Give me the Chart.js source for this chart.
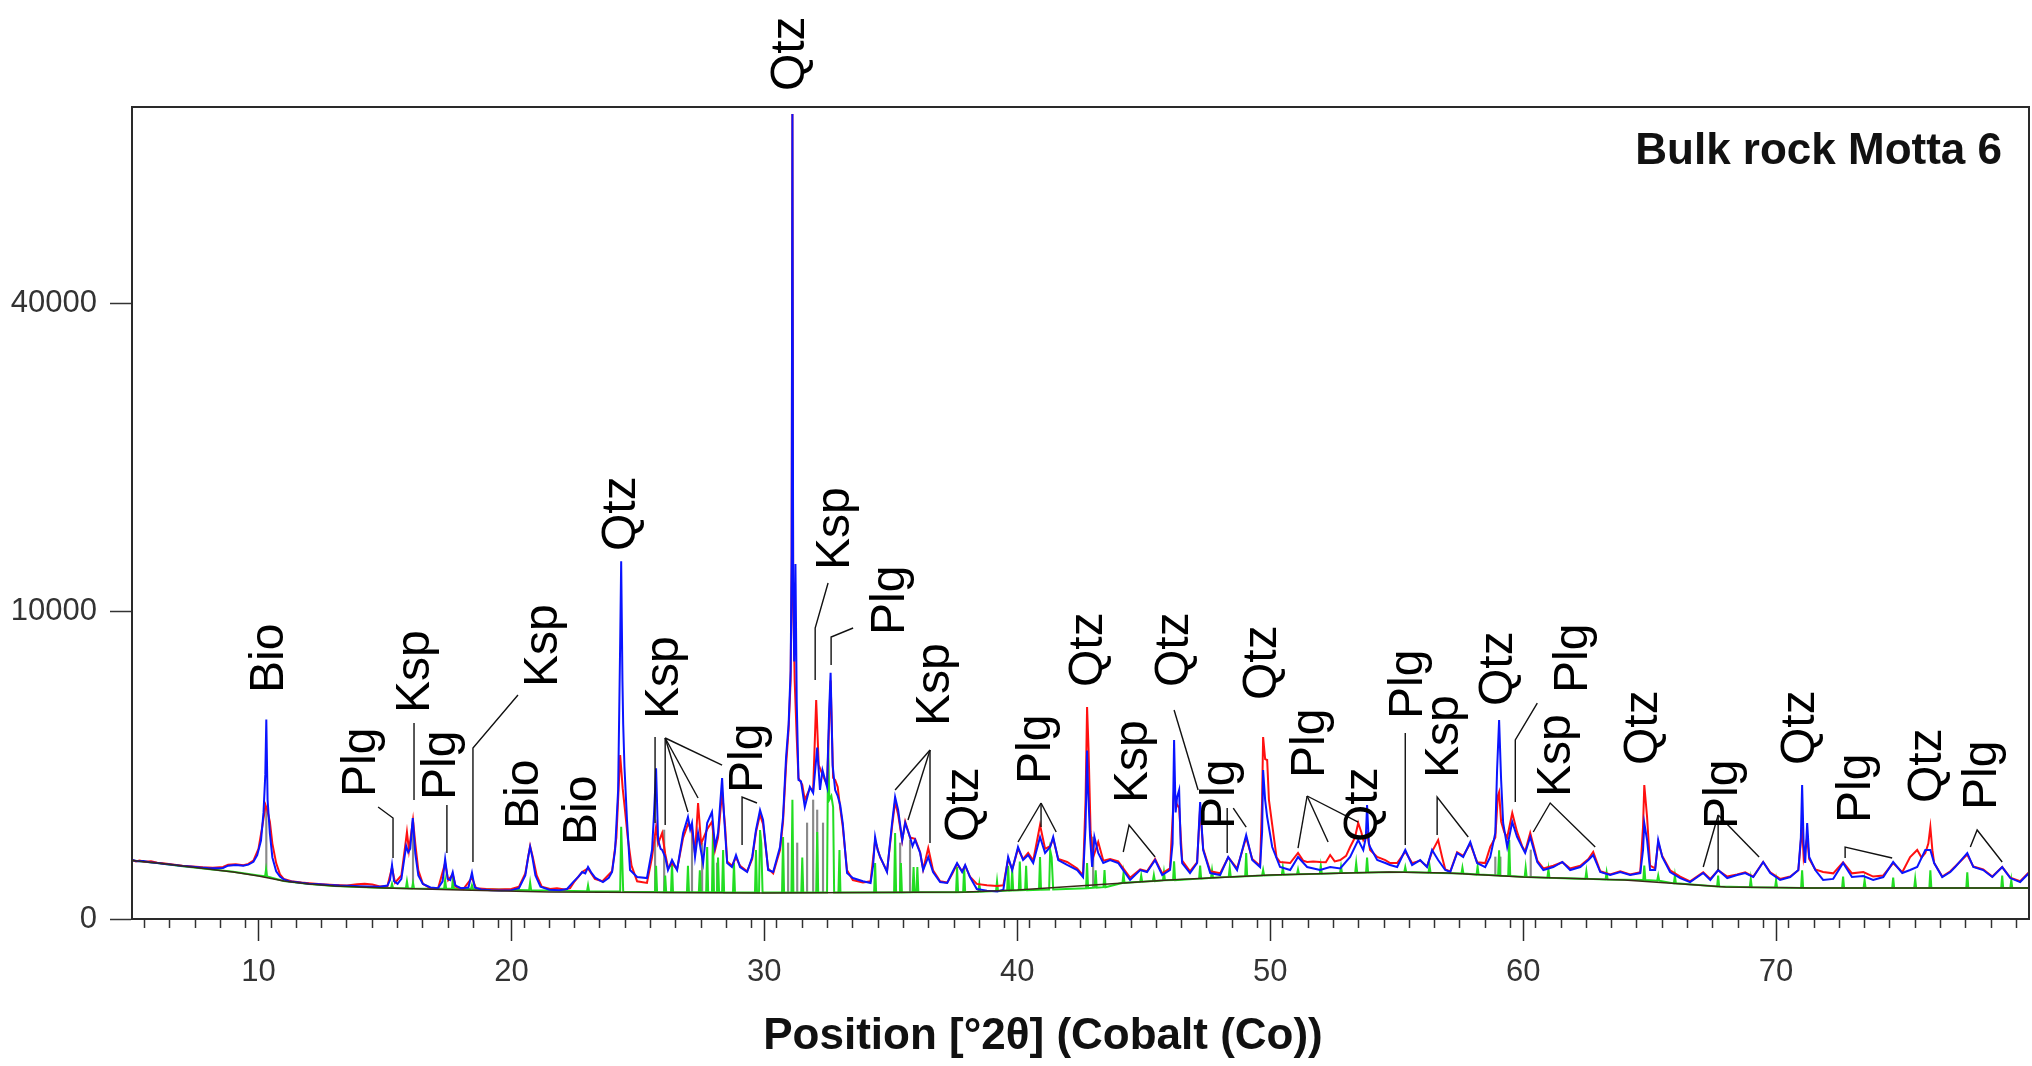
<!DOCTYPE html>
<html>
<head>
<meta charset="utf-8">
<script src="https://cdn.jsdelivr.net/npm/chart.js@4.4.1/dist/chart.umd.min.js"></script>
<style>
  html, body { margin: 0; padding: 0; background: #fff; }
  #wrap { width: 2032px; height: 1066px; position: relative; }
</style>
</head>
<body>
<div id="wrap"><canvas id="xrd"></canvas></div>
<script>
/* ---------------- data: [2theta, counts] ---------------- */
const xMin = 5, xMax = 80;
const yMax = 69600;
const yTicks = [0, 10000, 40000];
const xLabelTicks = [10, 20, 30, 40, 50, 60, 70];
const sampleName = 'Bulk rock Motta 6';
const xTitle = 'Position [°2θ] (Cobalt (Co))';

// blue trace
const blueTrace = [
  [5.0,367],[5.2,352],[5.45,355],[5.7,340],[6.0,330],[6.3,318],[6.6,310],[7.0,296],[7.3,290],[7.7,280],
  [8.0,275],[8.3,272],[8.6,275],[8.8,300],[9.1,308],[9.4,300],[9.6,312],[9.8,345],[9.95,430],[10.1,650],
  [10.2,1200],[10.27,2200],[10.31,4200],[10.36,1500],[10.45,780],[10.55,400],[10.7,240],[10.85,190],[11.0,165],
  [11.2,150],[11.6,140],[12.0,132],[12.4,128],[12.8,122],[13.2,118],[13.6,116],[14.0,114],[14.4,112],[14.8,110],
  [15.1,118],[15.2,160],[15.28,308],[15.36,150],[15.5,130],[15.65,170],[15.75,350],[15.84,560],[15.92,470],
  [16.0,520],[16.1,1075],[16.2,450],[16.32,200],[16.5,130],[16.8,105],[17.1,100],[17.28,150],[17.38,380],
  [17.48,170],[17.58,160],[17.68,230],[17.78,120],[18.0,100],[18.3,105],[18.44,225],[18.55,105],[18.8,92],
  [19.2,88],[19.6,86],[20.0,88],[20.3,100],[20.55,200],[20.67,420],[20.74,550],[20.82,420],[20.95,200],
  [21.15,110],[21.5,90],[21.9,88],[22.2,95],[22.44,144],[22.65,190],[22.8,233],[22.92,220],[23.03,285],
  [23.15,230],[23.31,180],[23.62,144],[23.85,180],[23.98,233],[24.1,503],[24.22,1757],[24.3,8000],[24.34,13500],
  [24.39,6000],[24.42,4000],[24.47,2440],[24.57,1035],[24.69,253],[24.97,186],[25.36,177],[25.56,503],
  [25.64,1186],[25.72,2400],[25.8,659],[25.9,520],[25.96,503],[26.08,406],[26.19,253],[26.35,367],[26.55,253],
  [26.79,781],[26.98,1098],[27.07,850],[27.14,973],[27.26,406],[27.38,781],[27.48,520],[27.58,331],[27.74,973],
  [27.93,1208],[28.05,547],[28.17,781],[28.33,2098],[28.41,1098],[28.53,331],[28.72,285],[28.88,432],[29.04,285],
  [29.32,233],[29.52,406],[29.67,836],[29.83,1254],[29.95,1035],[30.15,253],[30.35,233],[30.62,547],[30.74,1098],
  [30.86,2770],[30.96,4000],[31.04,6500],[31.08,14000],[31.11,68400],[31.14,12000],[31.18,7000],[31.23,13300],
  [31.28,5000],[31.35,2040],[31.45,2000],[31.6,1324],[31.8,1840],[31.93,1680],[32.09,3100],[32.2,1757],
  [32.3,2340],[32.48,1840],[32.56,4500],[32.62,6400],[32.7,2500],[32.8,1757],[32.9,1600],[33.0,1370],
  [33.1,973],[33.27,223],[33.5,177],[33.9,150],[34.2,137],[34.3,300],[34.38,710],[34.48,500],[34.58,406],
  [34.85,233],[35.05,973],[35.17,1570],[35.29,1254],[35.45,659],[35.57,973],[35.76,710],[35.86,560],[35.96,659],
  [36.16,460],[36.28,253],[36.48,406],[36.67,233],[36.95,144],[37.23,137],[37.42,223],[37.62,331],[37.82,233],
  [37.94,308],[38.13,186],[38.4,95],[38.8,85],[39.2,80],[39.45,90],[39.64,406],[39.8,253],[40.03,547],
  [40.23,367],[40.43,432],[40.63,331],[40.9,710],[41.1,460],[41.3,547],[41.42,710],[41.62,367],[41.97,308],
  [42.37,253],[42.6,186],[42.7,900],[42.76,3000],[42.8,1757],[42.88,700],[42.96,285],[43.05,710],[43.2,460],
  [43.4,331],[43.67,367],[43.99,331],[44.19,253],[44.46,161],[44.86,253],[45.13,233],[45.45,367],[45.73,204],
  [46.04,253],[46.14,600],[46.2,3382],[46.26,1200],[46.32,1571],[46.4,1757],[46.46,600],[46.52,331],[46.83,223],
  [47.11,331],[47.23,1445],[47.35,503],[47.63,223],[48.02,204],[48.34,406],[48.69,253],[49.05,745],[49.29,367],
  [49.6,285],[49.68,800],[49.72,2343],[49.8,1500],[49.88,1098],[50.08,547],[50.39,285],[50.79,253],[51.1,406],
  [51.46,285],[51.97,253],[52.37,285],[52.77,270],[53.16,406],[53.48,659],[53.68,503],[53.78,700],[53.83,1372],
  [53.9,600],[53.95,547],[54.23,367],[54.55,331],[54.74,308],[55.02,285],[55.34,503],[55.61,308],[55.93,367],
  [56.2,285],[56.4,503],[56.64,367],[56.92,253],[57.12,233],[57.39,460],[57.63,406],[57.91,626],[58.18,331],
  [58.5,285],[58.7,406],[58.9,781],[58.97,2343],[59.05,4180],[59.13,2039],[59.21,973],[59.37,547],[59.57,993],
  [59.76,710],[59.96,547],[60.08,460],[60.28,710],[60.56,343],[60.8,253],[61.19,285],[61.55,343],[61.86,253],
  [62.26,285],[62.58,367],[62.77,432],[63.05,233],[63.44,204],[63.84,233],[64.23,204],[64.63,223],[64.74,500],
  [64.79,973],[64.9,659],[65.02,253],[65.22,253],[65.34,659],[65.5,406],[65.81,233],[66.21,177],[66.6,144],
  [67.12,223],[67.4,161],[67.71,253],[68.07,177],[68.46,204],[68.78,223],[69.1,186],[69.49,343],[69.77,223],
  [70.16,161],[70.56,186],[70.88,253],[70.98,700],[71.03,1895],[71.09,600],[71.15,331],[71.23,973],[71.31,406],
  [71.55,253],[71.86,161],[72.26,170],[72.65,331],[73.0,186],[73.45,195],[73.84,161],[74.24,186],[74.63,343],
  [74.99,223],[75.3,253],[75.58,285],[75.9,503],[76.1,503],[76.25,331],[76.57,186],[76.89,233],[77.08,285],
  [77.56,460],[77.8,285],[78.19,253],[78.55,186],[78.94,285],[79.26,177],[79.65,144],[80.0,223]
];

// red trace
const redTrace = [
  [5.0,372],[5.15,350],[5.3,362],[5.5,345],[5.75,352],[6.0,335],[6.3,325],[6.6,315],[7.0,300],[7.4,290],
  [7.8,282],[8.2,278],[8.6,285],[8.8,310],[9.1,315],[9.4,305],[9.6,320],[9.8,360],[10.0,520],[10.15,900],
  [10.28,1370],[10.35,1250],[10.45,1000],[10.55,600],[10.7,330],[10.85,210],[11.0,170],[11.3,150],[11.7,140],
  [12.0,135],[12.5,128],[13.0,122],[13.5,118],[13.9,128],[14.2,132],[14.5,125],[14.8,112],[15.1,115],[15.28,280],
  [15.4,140],[15.65,200],[15.78,500],[15.87,800],[15.95,500],[16.11,1035],[16.2,600],[16.32,250],[16.5,130],
  [16.8,100],[17.1,98],[17.38,330],[17.5,160],[17.68,210],[17.8,110],[18.1,95],[18.44,180],[18.6,100],[19.0,95],
  [19.5,92],[20.0,95],[20.3,110],[20.55,220],[20.74,560],[20.85,400],[21.0,200],[21.2,110],[21.53,95],[21.8,100],
  [22.1,92],[22.32,100],[22.5,150],[22.8,233],[23.03,270],[23.3,170],[23.6,150],[23.98,240],[24.15,700],
  [24.3,2840],[24.4,1800],[24.5,1200],[24.6,700],[24.75,300],[24.97,150],[25.36,137],[25.56,400],[25.72,900],
  [25.8,600],[25.96,781],[26.08,450],[26.2,270],[26.35,330],[26.55,260],[26.79,700],[26.98,950],[27.14,850],
  [27.26,450],[27.38,1420],[27.5,600],[27.74,850],[27.93,1000],[28.05,500],[28.17,700],[28.33,1700],[28.45,900],
  [28.53,350],[28.72,300],[28.88,400],[29.04,300],[29.32,240],[29.52,380],[29.67,800],[29.83,1150],[29.95,950],
  [30.15,270],[30.35,220],[30.62,500],[30.74,1000],[30.86,2500],[30.96,3800],[31.04,6000],[31.08,13000],
  [31.11,68400],[31.14,11000],[31.2,6000],[31.28,3500],[31.35,2100],[31.5,1900],[31.6,1500],[31.8,1800],
  [31.93,1750],[32.05,5062],[32.15,2500],[32.3,2200],[32.48,1900],[32.62,6000],[32.72,2100],[32.8,2039],
  [32.9,1840],[33.0,1300],[33.1,900],[33.27,250],[33.5,160],[33.9,140],[34.2,150],[34.38,650],[34.58,400],
  [34.85,240],[35.05,900],[35.17,1450],[35.29,1150],[35.45,650],[35.57,1000],[35.76,700],[35.96,680],[36.16,470],
  [36.28,260],[36.48,532],[36.67,250],[36.95,150],[37.23,140],[37.42,210],[37.62,320],[37.82,240],[37.94,300],
  [38.13,190],[38.4,130],[38.8,120],[39.2,115],[39.45,120],[39.64,380],[39.8,260],[40.03,520],[40.23,380],
  [40.43,460],[40.63,360],[40.9,933],[41.1,520],[41.3,560],[41.42,680],[41.62,380],[41.97,343],[42.37,270],
  [42.6,200],[42.7,1500],[42.76,4740],[42.82,3000],[42.9,800],[43.0,400],[43.2,626],[43.4,360],[43.67,380],
  [43.99,350],[44.19,270],[44.46,180],[44.86,260],[45.13,240],[45.45,380],[45.73,220],[46.04,270],[46.2,1757],
  [46.3,1400],[46.4,1300],[46.52,360],[46.83,240],[47.11,340],[47.23,1300],[47.35,520],[47.63,240],[48.02,220],
  [48.34,400],[48.69,270],[49.05,700],[49.29,380],[49.6,300],[49.68,1500],[49.72,3497],[49.8,2700],[49.88,2669],
  [49.95,1500],[50.08,933],[50.25,400],[50.39,343],[50.79,331],[51.1,460],[51.3,360],[51.46,343],[51.7,350],
  [51.97,343],[52.2,340],[52.37,432],[52.55,350],[52.77,367],[53.0,420],[53.16,547],[53.35,700],[53.48,973],
  [53.6,800],[53.68,659],[53.83,781],[53.95,503],[54.23,406],[54.55,367],[54.74,331],[55.02,331],[55.34,480],
  [55.61,330],[55.93,360],[56.2,290],[56.4,480],[56.64,659],[56.8,400],[56.92,260],[57.12,240],[57.39,470],
  [57.63,420],[57.91,600],[58.18,340],[58.5,330],[58.7,547],[58.9,700],[59.0,1600],[59.05,1700],[59.13,1000],
  [59.25,800],[59.37,700],[59.57,1186],[59.76,800],[59.96,560],[60.08,480],[60.28,781],[60.56,360],[60.8,270],
  [61.19,300],[61.55,340],[61.86,270],[62.26,300],[62.58,380],[62.77,474],[63.05,240],[63.44,210],[63.84,240],
  [64.23,210],[64.63,230],[64.74,900],[64.79,1895],[64.9,1098],[65.02,300],[65.22,270],[65.34,620],[65.5,420],
  [65.81,250],[66.21,190],[66.6,150],[67.12,230],[67.4,170],[67.71,250],[68.07,190],[68.46,210],[68.78,230],
  [69.1,190],[69.49,343],[69.77,230],[70.16,170],[70.56,190],[70.88,250],[71.03,900],[71.09,400],[71.23,700],
  [71.31,380],[71.55,260],[71.86,233],[72.26,220],[72.65,340],[73.0,220],[73.45,233],[73.84,190],[74.24,200],
  [74.63,330],[74.99,230],[75.3,406],[75.58,503],[75.75,400],[75.9,460],[76.02,600],[76.1,893],[76.18,500],
  [76.25,331],[76.57,190],[76.89,240],[77.08,290],[77.56,440],[77.8,290],[78.19,260],[78.55,190],[78.94,285],
  [79.26,180],[79.65,150],[80.0,230]
];

// green trace (narrow spikes sitting on the background)
const greenTrace = [
  [5.0,360],[6.0,330],[7.0,295],[8.0,265],[9.0,235],[10.0,200],[10.26,192],[10.3,260],[10.34,190],[11.0,152],
  [12.0,130],[13.0,115],[14.0,108],[15.0,102],[15.24,101],[15.28,130],[15.32,101],[15.83,100],[15.87,150],
  [15.91,100],[16.07,99],[16.11,137],[16.15,99],[17.34,97],[17.38,160],[17.42,97],[17.65,97],[17.69,186],
  [17.73,97],[18.4,95],[18.44,120],[18.48,95],[20.7,88],[20.74,140],[20.78,88],[22.99,82],[23.03,120],[23.07,82],
  [24.3,80],[24.34,900],[24.38,400],[24.42,79],[25.68,77],[25.72,300],[25.76,77],[26.04,76],[26.08,200],
  [26.12,76],[26.31,76],[26.35,331],[26.39,76],[26.94,75],[26.98,300],[27.02,75],[27.41,75],[27.45,250],
  [27.49,75],[27.7,75],[27.74,547],[27.78,75],[27.93,75],[27.97,836],[28.01,75],[28.13,75],[28.17,400],
  [28.21,75],[28.33,75],[28.37,503],[28.41,74],[28.76,74],[28.8,331],[28.84,74],[29.63,74],[29.67,503],
  [29.71,74],[29.79,74],[29.83,836],[29.88,600],[29.93,74],[30.7,74],[30.74,710],[30.78,74],[31.07,74],
  [31.11,1500],[31.15,74],[31.46,74],[31.5,400],[31.54,74],[32.05,74],[32.09,800],[32.13,74],[32.48,74],
  [32.52,3382],[32.57,1500],[32.65,1600],[32.72,1324],[32.76,74],[32.93,74],[32.97,503],[33.01,74],[34.34,74],
  [34.38,331],[34.42,74],[35.13,74],[35.17,781],[35.21,74],[35.36,74],[35.4,331],[35.44,74],[35.86,75],
  [35.9,285],[35.94,75],[36.01,75],[36.05,285],[36.09,75],[37.58,76],[37.62,285],[37.66,76],[37.86,77],
  [37.9,285],[37.94,77],[38.46,78],[38.5,130],[38.54,78],[39.16,82],[39.2,150],[39.24,82],
  [39.6,85],[39.64,300],[39.68,85],[39.76,86],[39.8,253],[39.84,86],[40.06,87],[40.1,350],
  [40.14,87],[40.31,88],[40.35,300],[40.39,88],[40.86,90],[40.9,406],[40.94,90],[41.26,92],[41.3,503],[41.36,400],
  [41.42,92],[42.72,100],[42.76,331],[42.8,100],[43.06,104],[43.1,250],[43.14,104],[43.41,107],[43.45,253],
  [43.49,107],[44.16,138],[44.2,220],[44.24,138],[44.86,146],[44.9,200],[44.94,146],[45.36,152],[45.4,204],
  [45.44,152],[45.76,158],[45.8,230],[45.84,158],[46.16,160],[46.2,350],[46.24,160],[47.19,172],[47.23,300],
  [47.27,172],[47.66,179],[47.7,250],[47.74,179],[48.36,187],[48.4,280],[48.44,187],[49.01,193],[49.05,460],
  [49.09,193],[49.68,200],[49.72,253],[49.76,200],[50.46,207],[50.5,280],[50.54,207],[51.06,211],[51.1,260],
  [51.14,211],[51.96,217],[52.0,300],[52.04,217],[52.76,223],[52.8,290],[52.84,223],[53.36,227],[53.4,331],
  [53.44,227],[53.79,229],[53.83,400],[53.87,229],[55.3,232],[55.34,285],[55.38,232],[56.26,226],[56.3,300],
  [56.34,226],[57.56,218],[57.6,280],[57.64,218],[58.16,208],[58.2,290],[58.24,208],[59.01,200],[59.05,500],
  [59.09,198],[59.41,196],[59.45,659],[59.49,195],[60.06,186],[60.1,280],[60.14,186],[60.96,180],[61.0,260],
  [61.04,180],[62.46,170],[62.5,240],[62.54,170],[63.26,165],[63.3,230],[63.34,165],[64.75,161],[64.79,300],
  [64.83,160],[65.3,155],[65.34,200],[65.38,155],[65.96,134],[66.0,200],[66.04,134],[67.67,112],[67.71,200],
  [67.75,112],[68.96,106],[69.0,170],[69.04,106],[69.96,104],[70.0,160],[70.04,104],[70.99,102],[71.03,250],
  [71.07,102],[72.61,101],[72.65,190],[72.69,101],[73.46,101],[73.5,160],[73.54,101],[74.59,101],[74.63,180],
  [74.67,101],[75.46,101],[75.5,170],[75.54,101],[76.06,101],[76.1,250],[76.14,101],[77.52,101],[77.56,230],
  [77.6,101],[78.9,101],[78.94,200],[78.98,101],[79.26,101],[79.3,160],[79.34,101],[80.0,101]
];

// fitted background
const backgroundLine = [
  [5,360],[6,330],[7,296],[8,264],[9,233],[10,195],[11,152],[12,130],[13,115],[15,101],[18,89],[21.5,77],
  [30,71],[38,77],[40,89],[43,122],[46,161],[50,204],[54.7,233],[57,223],[60,186],[64,161],[68,108],
  [71.4,101],[80,101]
];

// reference sticks: position, base, top
const stickPos  = [10.31, 16.11, 25.68, 26.04, 27.14, 27.54, 28.13, 30.94, 31.30, 31.69, 31.93, 32.09, 32.32, 35.37, 35.76, 43.0, 58.9, 59.1, 60.3];
const stickBase = [195, 99, 76, 75, 75, 75, 75, 74, 74, 74, 74, 74, 74, 74, 74, 105, 200, 200, 190];
const stickTop  = [1324, 990, 710, 836, 836, 610, 331, 610, 610, 973, 1495, 1254, 973, 610, 659, 710, 406, 406, 503];

// phase labels: text, 2theta of label, counts at text start
const labelText = ['Bio','Plg','Ksp','Plg','Ksp','Bio','Bio','Qtz','Ksp','Plg','Qtz','Ksp','Plg','Ksp','Qtz','Plg','Qtz',
                   'Ksp','Qtz','Plg','Qtz','Plg','Qtz','Plg','Ksp','Qtz','Plg','Ksp','Qtz','Plg','Qtz','Plg','Qtz','Plg'];
const labelPos  = [10.46,14.1,16.23,17.26,21.29,20.54,22.83,24.38,26.08,29.4,31.06,32.84,35.01,36.79,37.94,40.78,42.84,
                   44.62,46.24,48.06,49.72,51.62,53.68,55.49,56.92,59.05,62.02,61.31,64.75,67.95,70.99,73.21,75.98,78.19];
const labelBase = [5390,1571,4479,1495,5681,855,578,14295,4222,1676,72360,12856,8513,3932,626,1923,5681,
                   1420,5681,855,5062,2098,626,4222,2098,4788,5390,1571,2503,855,2503,973,1420,1254];

// leader lines from labels to peaks
const leaderLines = [
  [[14.73,1324],[15.32,1077],[15.32,393]],
  [[16.15,4055],[16.15,1495]],
  [[17.45,1372],[17.45,460]],
  [[20.26,5296],[18.48,3087],[18.48,343]],
  [[25.68,3497],[25.68,973]],
  [[26.08,3458],[26.08,933]],
  [[26.08,3458],[26.98,1208]],
  [[26.08,3458],[27.38,1545]],
  [[26.08,3458],[28.33,2503]],
  [[29.71,1420],[29.12,1571],[29.12,578]],
  [[32.52,11916],[32.01,8938],[32.01,6029]],
  [[33.51,8938],[32.64,8394],[32.64,6810]],
  [[36.55,3015],[35.17,1757]],
  [[36.55,3015],[35.68,1035]],
  [[36.55,3015],[36.55,610]],
  [[40.94,1420],[40.03,626]],
  [[40.94,1420],[40.94,893]],
  [[40.94,1420],[41.54,799]],
  [[44.19,474],[44.42,933],[45.45,406]],
  [[46.2,4610],[47.15,1757]],
  [[48.3,1300],[48.3,460]],
  [[48.54,1300],[49.05,893]],
  [[51.46,1597],[51.1,532]],
  [[51.46,1597],[52.29,626]],
  [[51.46,1597],[53.48,993]],
  [[55.34,3651],[55.34,578]],
  [[56.6,745],[56.6,1571],[57.83,710]],
  [[60.56,4924],[59.69,3382],[59.69,1445]],
  [[60.4,799],[61.07,1420],[62.85,547]],
  [[67.71,1142],[67.12,285]],
  [[67.71,1142],[67.71,253]],
  [[67.71,1142],[69.33,406]],
  [[72.73,393],[72.73,547],[74.59,393]],
  [[77.68,547],[77.95,836],[78.94,343]]
];

/* ---------------- square-root intensity axis ---------------- */
class SqrtScale extends Chart.LinearScale {
  getPixelForValue(value) {
    const lo = Math.sqrt(this.min), hi = Math.sqrt(this.max);
    return this.getPixelForDecimal((Math.sqrt(Math.max(value, 0)) - lo) / (hi - lo));
  }
  getValueForPixel(pixel) {
    const lo = Math.sqrt(this.min), hi = Math.sqrt(this.max);
    const s = lo + this.getDecimalForPixel(pixel) * (hi - lo);
    return s * s;
  }
}
SqrtScale.id = 'sqrt';
SqrtScale.defaults = Chart.LinearScale.defaults;
Chart.register(SqrtScale);

/* ---------------- labels, leaders, frame, titles ---------------- */
const annotate = {
  id: 'annotate',
  afterDatasetsDraw(chart) {
    const { ctx, chartArea: a, scales: { x, y } } = chart;
    ctx.save();

    // frame
    ctx.strokeStyle = '#2a2a2a';
    ctx.lineWidth = 2;
    ctx.strokeRect(a.left, a.top, a.right - a.left, a.bottom - a.top);

    // long ticks at every 10 degrees
    ctx.lineWidth = 1.5;
    xLabelTicks.forEach(v => {
      const px = Math.round(x.getPixelForValue(v)) + 0.5;
      ctx.beginPath();
      ctx.moveTo(px, a.bottom);
      ctx.lineTo(px, a.bottom + 22);
      ctx.stroke();
    });

    // leader lines
    ctx.strokeStyle = '#111';
    ctx.lineWidth = 1.4;
    leaderLines.forEach(path => {
      ctx.beginPath();
      path.forEach(([t, c], i) => {
        const px = x.getPixelForValue(t), py = y.getPixelForValue(c);
        i ? ctx.lineTo(px, py) : ctx.moveTo(px, py);
      });
      ctx.stroke();
    });

    // phase labels
    ctx.fillStyle = '#000';
    ctx.font = '48px "Liberation Sans", Arial, sans-serif';
    ctx.textAlign = 'left';
    ctx.textBaseline = 'middle';
    labelText.forEach((txt, i) => {
      ctx.save();
      ctx.translate(x.getPixelForValue(labelPos[i]), y.getPixelForValue(labelBase[i]));
      ctx.rotate(-Math.PI / 2);
      ctx.fillText(txt, 0, 0);
      ctx.restore();
    });

    // sample name and axis title
    ctx.fillStyle = '#111';
    ctx.font = 'bold 44px "Liberation Sans", Arial, sans-serif';
    ctx.textAlign = 'right';
    ctx.fillText(sampleName, a.right - 27, 152);
    ctx.textAlign = 'center';
    ctx.fillText(xTitle, 1043, 1037);
    ctx.restore();
  }
};

/* ---------------- chart ---------------- */
const tickFont = { family: '"Liberation Sans Narrow", "Liberation Sans", Arial, sans-serif', size: 31 };

new Chart(document.getElementById('xrd'), {
  type: 'line',
  data: {
    datasets: [
      { label: 'background', data: backgroundLine, borderColor: '#3a2a18', borderWidth: 1.5, order: 1 },
      { label: 'blue', data: blueTrace, borderColor: '#0a14ff', borderWidth: 2, order: 2 },
      { label: 'red', data: redTrace, borderColor: '#ff1010', borderWidth: 2, order: 3 },
      { label: 'green', data: greenTrace, borderColor: '#22dd22', borderWidth: 2, order: 4 },
      {
        type: 'bar', label: 'sticks', order: 5,
        data: stickPos.map((p, i) => ({ x: p, y: [stickBase[i], stickTop[i]] })),
        backgroundColor: '#8a8a8a', barThickness: 1.5, grouped: false
      }
    ]
  },
  options: {
    responsive: true,
    maintainAspectRatio: false,
    animation: false,
    events: [],
    elements: { point: { radius: 0 }, line: { tension: 0 } },
    layout: { padding: { top: 107, right: 3, left: 0, bottom: 0 } },
    plugins: { legend: { display: false }, tooltip: { enabled: false } },
    scales: {
      x: {
        type: 'linear', min: xMin, max: xMax, offset: false,
        afterFit: s => { s.height = 147; s.paddingLeft = 0; s.paddingRight = 0; },
        ticks: {
          stepSize: 1, autoSkip: false, maxRotation: 0, padding: 26,
          color: '#333', font: tickFont,
          callback: v => (xLabelTicks.includes(v) ? String(v) : '')
        },
        grid: { drawOnChartArea: false, tickLength: 9, tickWidth: 1.5, tickColor: '#333' },
        border: { color: '#2a2a2a', width: 2 }
      },
      y: {
        type: 'sqrt', min: 0, max: yMax,
        afterFit: s => { s.width = 132; s.paddingTop = 0; s.paddingBottom = 0; },
        afterBuildTicks: s => { s.ticks = yTicks.map(v => ({ value: v })); },
        ticks: { color: '#333', font: tickFont, padding: 13, callback: v => String(v) },
        grid: { drawOnChartArea: false, tickLength: 22, tickWidth: 1.5, tickColor: '#333' },
        border: { color: '#2a2a2a', width: 2 }
      }
    }
  },
  plugins: [annotate]
});
</script>
</body>
</html>
